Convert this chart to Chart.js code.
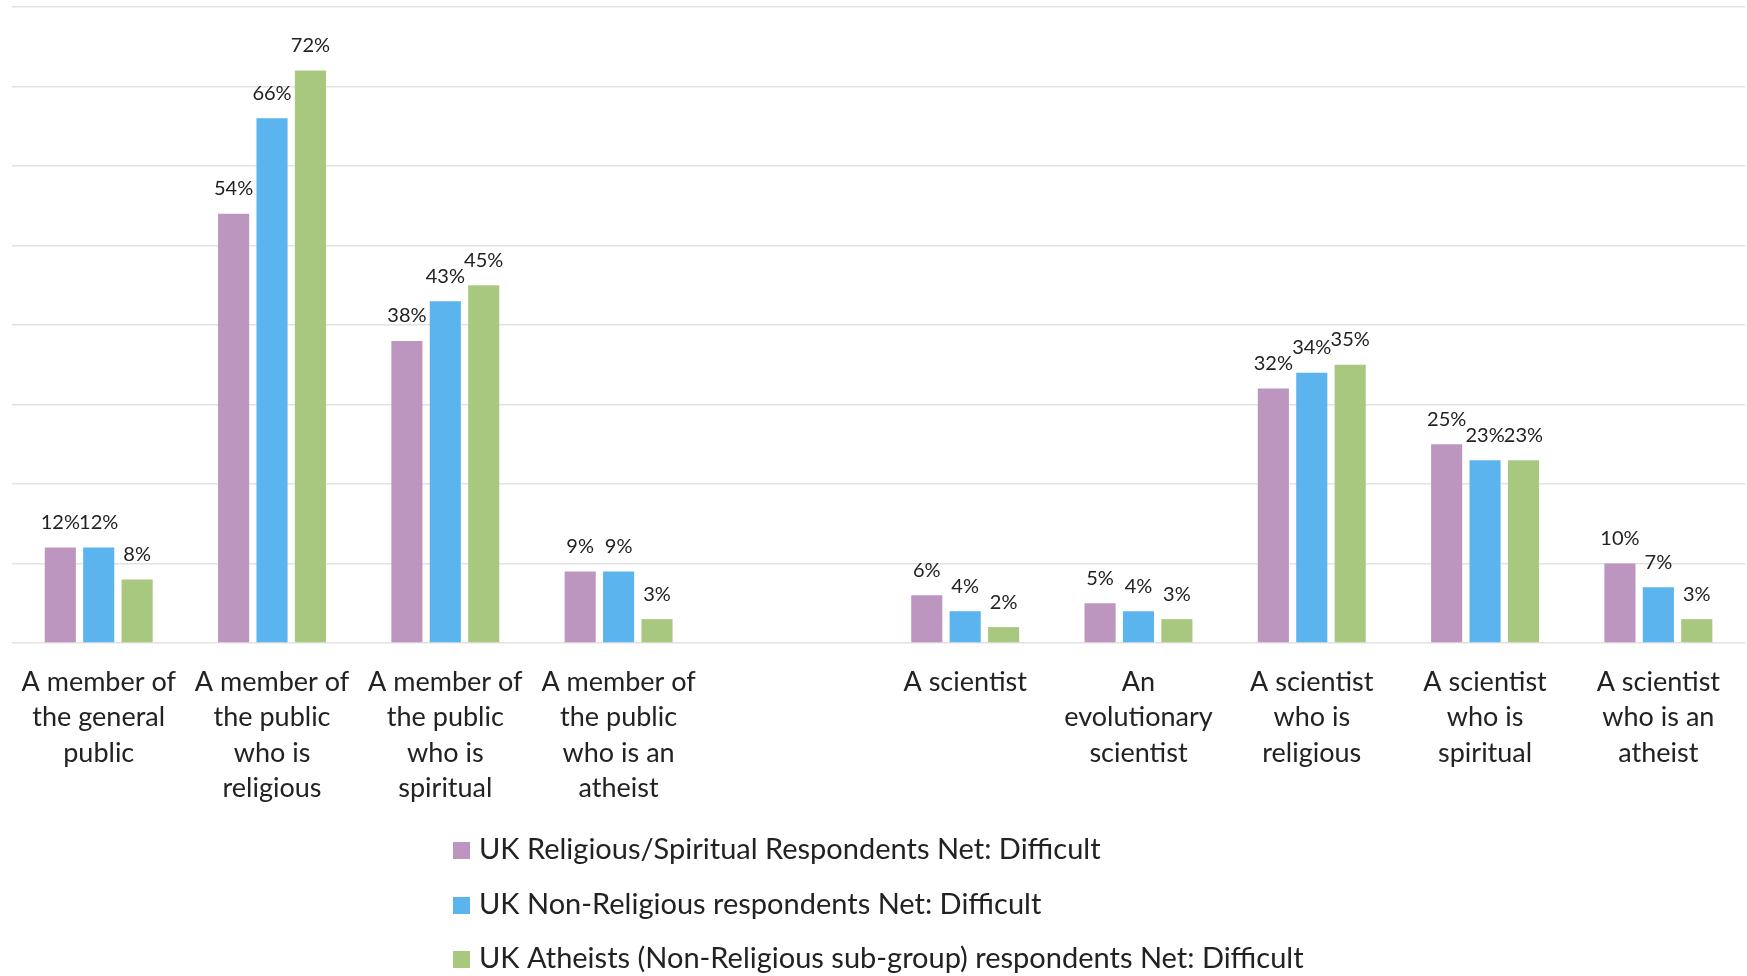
<!DOCTYPE html>
<html>
<head>
<meta charset="utf-8">
<script src="https://cdn.jsdelivr.net/npm/chart.js@4"></script>
<style>
  html, body { margin: 0; padding: 0; background: #fff; }
  #wrap { width: 1747px; height: 976px; }
</style>
</head>
<body>
<div id="wrap"><canvas id="chart" width="1747" height="976"></canvas></div>
<script>
// Categories (empty slot between the two groups)
const categories = [
  ["A member of", "the general", "public"],
  ["A member of", "the public", "who is", "religious"],
  ["A member of", "the public", "who is", "spiritual"],
  ["A member of", "the public", "who is an", "atheist"],
  "",
  ["A scientist"],
  ["An", "evolutionary", "scientist"],
  ["A scientist", "who is", "religious"],
  ["A scientist", "who is", "spiritual"],
  ["A scientist", "who is an", "atheist"]
];

const seriesNames = [
  "UK Religious/Spiritual Respondents Net: Difficult",
  "UK Non-Religious respondents Net: Difficult",
  "UK Atheists (Non-Religious sub-group) respondents Net: Difficult"
];

const religiousVals = [12, 54, 38, 9, null, 6, 5, 32, 25, 10];
const nonReligiousVals = [12, 66, 43, 9, null, 4, 4, 34, 23, 7];
const atheistVals = [8, 72, 45, 3, null, 2, 3, 35, 23, 3];

const yTicks = [0, 10, 20, 30, 40, 50, 60, 70, 80];

const colors = ["#bd96bf", "#5cb4ef", "#a8c87f"];
const FONT = "Lato, 'Open Sans', sans-serif";

// value labels above bars
const valueLabels = {
  id: "valueLabels",
  afterDatasetsDraw(chart) {
    const { ctx } = chart;
    ctx.save();
    ctx.font = "20px " + FONT;
    ctx.fillStyle = "#222";
    ctx.textAlign = "center";
    ctx.textBaseline = "bottom";
    chart.data.datasets.forEach((ds, i) => {
      chart.getDatasetMeta(i).data.forEach((bar, j) => {
        const v = ds.data[j];
        if (v == null) return;
        ctx.fillText(v + "%", bar.x, bar.y - 15);
      });
    });
    ctx.restore();
  }
};

// stacked legend at the bottom, one entry per row
const stackedLegend = {
  id: "stackedLegend",
  afterDraw(chart) {
    const { ctx } = chart;
    const x = 453, rows = [850, 905, 959];
    ctx.save();
    ctx.font = "29px " + FONT;
    ctx.textBaseline = "middle";
    ctx.textAlign = "left";
    chart.data.datasets.forEach((ds, i) => {
      ctx.fillStyle = ds.backgroundColor;
      ctx.fillRect(x, rows[i] - 8, 17, 17);
      ctx.fillStyle = "#222";
      ctx.fillText(ds.label, x + 26, rows[i]);
    });
    ctx.restore();
  }
};

const datasets = [religiousVals, nonReligiousVals, atheistVals].map((vals, i) => ({
  label: seriesNames[i],
  data: vals,
  backgroundColor: colors[i],
  borderWidth: 0,
  barPercentage: 0.81,
  categoryPercentage: 0.665
}));

new Chart(document.getElementById("chart"), {
  type: "bar",
  data: { labels: categories, datasets: datasets },
  options: {
    responsive: false,
    animation: false,
    layout: { padding: { left: 10, right: 2, top: 7, bottom: 163 } },
    plugins: {
      legend: { display: false },
      tooltip: { enabled: false }
    },
    scales: {
      x: {
        grid: { display: false, drawTicks: false },
        border: { display: false },
        ticks: {
          color: "#222",
          padding: 21,
          maxRotation: 0,
          autoSkip: false,
          font: { family: FONT, size: 27, lineHeight: 1.32 }
        },
        afterFit: (s) => { s.height = 170; }
      },
      y: {
        min: 0,
        max: 80,
        afterBuildTicks: (s) => { s.ticks = yTicks.map(v => ({ value: v })); },
        grid: { color: "#e2e2e2", lineWidth: 1.5, drawTicks: false },
        border: { display: false },
        ticks: { display: false },
        afterFit: (s) => { s.width = 0; }
      }
    }
  },
  plugins: [valueLabels, stackedLegend]
});
</script>
</body>
</html>
